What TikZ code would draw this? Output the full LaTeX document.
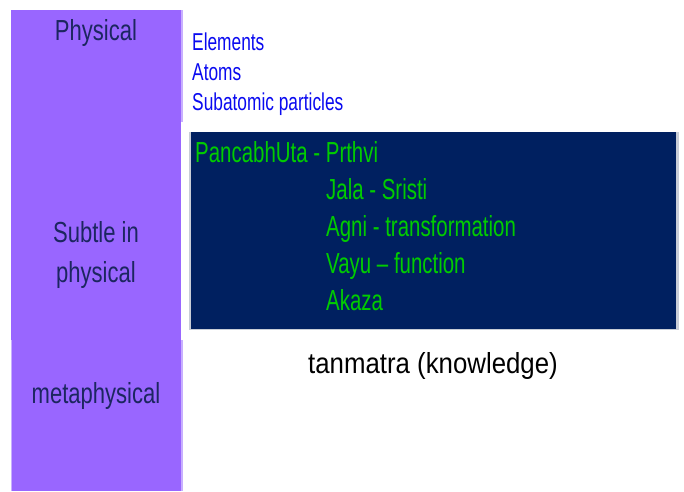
\documentclass[tikz,border=0pt]{standalone}
\usepackage{fontspec}
\setmainfont{Liberation Sans}
\newfontfamily\lblfont[FakeStretch=0.76]{Liberation Sans}
\newfontfamily\bluefont[FakeStretch=0.71]{Liberation Sans}
\newfontfamily\greenfont[FakeStretch=0.705]{Liberation Sans}
\newfontfamily\blackfont[FakeStretch=0.89]{Liberation Sans}
\definecolor{purplebar}{RGB}{153,102,255}
\definecolor{purpleedge}{RGB}{200,175,255}
\definecolor{navybox}{RGB}{0,32,96}
\definecolor{navytext}{RGB}{28,38,96}
\definecolor{greentext}{RGB}{0,204,0}
\definecolor{bluetext}{RGB}{10,10,240}
\definecolor{shadowgray}{RGB}{200,205,215}
\tikzset{
  lbl/.style={inner sep=0pt, text=navytext, font=\lblfont\fontsize{29}{34}\selectfont, anchor=base},
  bluetxt/.style={inner sep=0pt, text=bluetext, font=\bluefont\fontsize{24.4}{29}\selectfont, anchor=base west},
  greentxt/.style={inner sep=0pt, text=greentext, font=\greenfont\fontsize{29}{34}\selectfont, anchor=base west},
  blacktxt/.style={inner sep=0pt, text=black, font=\blackfont\fontsize{29}{34}\selectfont, anchor=base west}
}
\begin{document}
\begin{tikzpicture}[x=1pt,y=-1pt]
\useasboundingbox (0,0) rectangle (684,491);
% purple column (three stacked panels)
\fill[purpleedge] (11,10) rectangle (183,122);
\fill[purplebar] (11,10) rectangle (181,122);
\fill[purplebar] (11,122) rectangle (181,340);
\fill[purpleedge] (11,340) rectangle (183,491);
\fill[purplebar] (12,340) rectangle (181,491);
% navy box with light edge
\fill[shadowgray] (189,132) rectangle (679,330);
\fill[navybox] (191,132) rectangle (676,329);
% left labels
\node[lbl] (phys) at (96,40) {Physical};
\node[lbl] (subtle) at (96,242) {Subtle in};
\node[lbl] (subtle2) at (96,282) {physical};
\node[lbl] (meta) at (96,403) {metaphysical};
% blue list
\node[bluetxt] (el) at (192,50) {Elements};
\node[bluetxt] (at) at (192,80) {Atoms};
\node[bluetxt] (sub) at (192,110) {Subatomic particles};
% green list
\node[greentxt] (g1) at (195,162) {PancabhUta - Prthvi};
\node[greentxt] (g2) at (326,199) {Jala - Sristi};
\node[greentxt] (g3) at (326,236) {Agni - transformation};
\node[greentxt] (g4) at (326,273) {Vayu – function};
\node[greentxt] (g5) at (326,310) {Akaza};
% black
\node[blacktxt] (tan) at (308,373) {tanmatra (knowledge)};
\end{tikzpicture}
\end{document}
